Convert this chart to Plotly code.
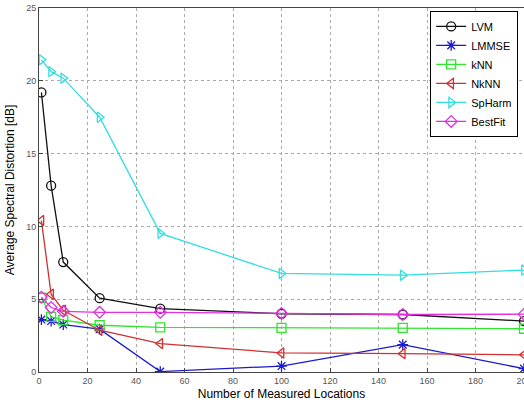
import plotly.graph_objects as go

x_vals = [1, 5, 10, 25, 50, 100, 150, 200]
lvm = [19.2, 12.8, 7.55, 5.07, 4.35, 4.0, 3.95, 3.5]
lmmse = [3.6, 3.5, 3.26, 2.94, 0.03, 0.41, 1.88, 0.23]
knn = [5.1, 3.78, 3.56, 3.21, 3.07, 3.03, 3.03, 2.97]
nknn = [10.4, 5.34, 4.24, 2.87, 1.95, 1.31, 1.26, 1.18]
spharm = [21.44, 20.63, 20.18, 17.5, 9.52, 6.77, 6.65, 7.0]
bestfit = [5.14, 4.43, 4.17, 4.1, 4.1, 4.02, 3.95, 3.97]

series = [
    ("LVM", lvm, "#111111", "circle-open"),
    ("LMMSE", lmmse, "#1a1acc", "asterisk-open"),
    ("kNN", knn, "#2ee62e", "square-open"),
    ("NkNN", nknn, "#d03030", "triangle-left-open"),
    ("SpHarm", spharm, "#33dde0", "triangle-right-open"),
    ("BestFit", bestfit, "#e030e0", "diamond-open"),
]

fig = go.Figure()
for name, vals, color, sym in series:
    fig.add_trace(go.Scatter(
        x=x_vals, y=vals, name=name, mode="lines+markers",
        line=dict(color=color, width=1.3),
        marker=dict(symbol=sym, size=9, color=color, line=dict(color=color, width=1.3)),
    ))

fig.update_layout(
    width=524, height=402,
    margin=dict(l=39, r=0, t=8, b=30),
    paper_bgcolor="white", plot_bgcolor="white",
    font=dict(family="Liberation Sans, Arial, sans-serif", color="black"),
    showlegend=True,
    legend=dict(
        x=0.988, y=0.992, xanchor="right", yanchor="top",
        bgcolor="white", bordercolor="black", borderwidth=1,
        font=dict(size=11, color="black"),
        tracegroupgap=0, itemwidth=30,
    ),
)
axis_common = dict(
    showgrid=True, gridcolor="#aaaaaa", griddash="dot", gridwidth=1,
    showline=True, linecolor="#444444", linewidth=1, mirror=True,
    ticks="inside", ticklen=4, tickcolor="#444444",
    tickfont=dict(size=9, color="#555555"),
    zeroline=False, ticklabeloverflow="allow", automargin=False,
)
fig.update_xaxes(
    range=[0, 200], tick0=0, dtick=20,
    title=dict(text="Number of Measured Locations", font=dict(size=12), standoff=4),
    **axis_common,
)
fig.update_yaxes(
    range=[0, 25], tick0=0, dtick=5,
    title=dict(text="Average Spectral Distortion [dB]", font=dict(size=12), standoff=8),
    **axis_common,
)

fig.write_html(
    "out.html",
    config={"displayModeBar": False},
    post_script="document.body.style.margin='0';document.body.style.overflow='hidden';",
)
